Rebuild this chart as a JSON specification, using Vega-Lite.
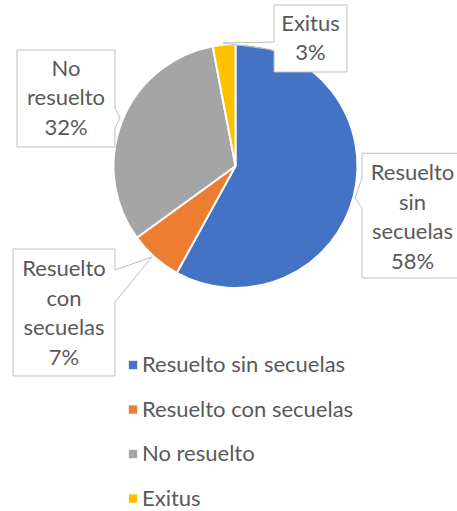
{
  "$schema": "https://vega.github.io/schema/vega-lite/v6.json",
  "width": 457,
  "height": 511,
  "autosize": "none",
  "padding": 0,
  "background": "white",
  "config": {"view": {"stroke": null}, "text": {"font": "Lato"}},
  "data": {
    "values": [
      {"category": "Resuelto sin secuelas", "value": 58},
      {"category": "Resuelto con secuelas", "value": 7},
      {"category": "No resuelto", "value": 32},
      {"category": "Exitus", "value": 3}
    ]
  },
  "transform": [
    {"window": [{"op": "row_number", "as": "orden"}]},
    {"calculate": "join(split(datum.category, ' '), '\\n') + '\\n' + datum.value + '%'", "as": "label"}
  ],
  "layer": [
    {
      "mark": {"type": "arc", "outerRadius": 122, "stroke": "white", "strokeWidth": 2},
      "encoding": {
        "x": {"datum": 0, "type": "quantitative", "scale": {"domain": [-1.9463, 1.8306], "nice": false, "zero": false}, "axis": null},
        "y": {"datum": 0, "type": "quantitative", "scale": {"domain": [-2.8512, 1.3719], "nice": false, "zero": false}, "axis": null},
        "theta": {"field": "value", "type": "quantitative", "stack": true},
        "order": {"field": "orden", "type": "quantitative"},
        "color": {
          "field": "category",
          "type": "nominal",
          "scale": {
            "domain": ["Resuelto sin secuelas", "Resuelto con secuelas", "No resuelto", "Exitus"],
            "range": ["#4472C4", "#ED7D31", "#A5A5A5", "#FFC000"]
          },
          "legend": {
            "orient": "none",
            "legendX": 122,
            "legendY": 354,
            "title": null,
            "direction": "vertical",
            "symbolType": "square",
            "symbolSize": 70,
            "symbolStrokeWidth": 0,
            "labelFont": "Lato",
            "labelFontSize": 22,
            "labelColor": "#595959",
            "labelOffset": -2,
            "rowPadding": 22.5,
            "labelLimit": 400
          }
        }
      }
    },
    {
      "transform": [{"filter": "datum.category === 'Exitus'"}],
      "layer": [
        {"mark": {"type": "rect", "fill": "white", "stroke": "#BFBFBF", "strokeWidth": 1},
         "encoding": {
           "x": {"datum": 0.3182, "type": "quantitative", "scale": {"domain": [-1.9463, 1.8306], "nice": false, "zero": false}, "axis": null},
           "x2": {"datum": 0.9215},
           "y": {"datum": 1.3306, "type": "quantitative", "scale": {"domain": [-2.8512, 1.3719], "nice": false, "zero": false}, "axis": null},
           "y2": {"datum": 0.7769}}},
        {"mark": {"type": "rule", "color": "white", "strokeWidth": 2},
         "encoding": {
           "x": {"datum": 0.3182, "type": "quantitative", "scale": {"domain": [-1.9463, 1.8306], "nice": false, "zero": false}, "axis": null},
           "y": {"datum": 1.0248, "type": "quantitative", "scale": {"domain": [-2.8512, 1.3719], "nice": false, "zero": false}, "axis": null},
           "y2": {"datum": 0.9587}}},
        {"mark": {"type": "rule", "color": "#BFBFBF", "strokeWidth": 1},
         "encoding": {
           "x": {"datum": 0.3182, "type": "quantitative", "scale": {"domain": [-1.9463, 1.8306], "nice": false, "zero": false}, "axis": null},
           "y": {"datum": 1.0248, "type": "quantitative", "scale": {"domain": [-2.8512, 1.3719], "nice": false, "zero": false}, "axis": null},
           "x2": {"datum": -0.1033}, "y2": {"datum": 1.0165}}},
        {"mark": {"type": "rule", "color": "#BFBFBF", "strokeWidth": 1},
         "encoding": {
           "x": {"datum": 0.3182, "type": "quantitative", "scale": {"domain": [-1.9463, 1.8306], "nice": false, "zero": false}, "axis": null},
           "y": {"datum": 0.9587, "type": "quantitative", "scale": {"domain": [-2.8512, 1.3719], "nice": false, "zero": false}, "axis": null},
           "x2": {"datum": -0.1033}, "y2": {"datum": 1.0165}}},
        {"mark": {"type": "text", "fontSize": 22, "color": "#595959", "lineBreak": "\n", "lineHeight": 29.5, "align": "center", "baseline": "middle", "dy": -14.75},
         "encoding": {
           "x": {"datum": 0.6198, "type": "quantitative", "scale": {"domain": [-1.9463, 1.8306], "nice": false, "zero": false}, "axis": null},
           "y": {"datum": 1.0537, "type": "quantitative", "scale": {"domain": [-2.8512, 1.3719], "nice": false, "zero": false}, "axis": null},
           "text": {"field": "label", "type": "nominal"}}}
      ]
    },
    {
      "transform": [{"filter": "datum.category === 'No resuelto'"}],
      "layer": [
        {"mark": {"type": "rect", "fill": "white", "stroke": "#BFBFBF", "strokeWidth": 1},
         "encoding": {
           "x": {"datum": -1.8058, "type": "quantitative", "scale": {"domain": [-1.9463, 1.8306], "nice": false, "zero": false}, "axis": null},
           "x2": {"datum": -0.9959},
           "y": {"datum": 0.9587, "type": "quantitative", "scale": {"domain": [-2.8512, 1.3719], "nice": false, "zero": false}, "axis": null},
           "y2": {"datum": 0.1570}}},
        {"mark": {"type": "rule", "color": "white", "strokeWidth": 2},
         "encoding": {
           "x": {"datum": -0.9959, "type": "quantitative", "scale": {"domain": [-1.9463, 1.8306], "nice": false, "zero": false}, "axis": null},
           "y": {"datum": 0.4793, "type": "quantitative", "scale": {"domain": [-2.8512, 1.3719], "nice": false, "zero": false}, "axis": null},
           "y2": {"datum": 0.3140}}},
        {"mark": {"type": "rule", "color": "#BFBFBF", "strokeWidth": 1},
         "encoding": {
           "x": {"datum": -0.9959, "type": "quantitative", "scale": {"domain": [-1.9463, 1.8306], "nice": false, "zero": false}, "axis": null},
           "y": {"datum": 0.4793, "type": "quantitative", "scale": {"domain": [-2.8512, 1.3719], "nice": false, "zero": false}, "axis": null},
           "x2": {"datum": -0.9545}, "y2": {"datum": 0.3967}}},
        {"mark": {"type": "rule", "color": "#BFBFBF", "strokeWidth": 1},
         "encoding": {
           "x": {"datum": -0.9959, "type": "quantitative", "scale": {"domain": [-1.9463, 1.8306], "nice": false, "zero": false}, "axis": null},
           "y": {"datum": 0.3140, "type": "quantitative", "scale": {"domain": [-2.8512, 1.3719], "nice": false, "zero": false}, "axis": null},
           "x2": {"datum": -0.9545}, "y2": {"datum": 0.3967}}},
        {"mark": {"type": "text", "fontSize": 22, "color": "#595959", "lineBreak": "\n", "lineHeight": 29.5, "align": "center", "baseline": "middle", "dy": -29.5},
         "encoding": {
           "x": {"datum": -1.4008, "type": "quantitative", "scale": {"domain": [-1.9463, 1.8306], "nice": false, "zero": false}, "axis": null},
           "y": {"datum": 0.5579, "type": "quantitative", "scale": {"domain": [-2.8512, 1.3719], "nice": false, "zero": false}, "axis": null},
           "text": {"field": "label", "type": "nominal"}}}
      ]
    },
    {
      "transform": [{"filter": "datum.category === 'Resuelto con secuelas'"}],
      "layer": [
        {"mark": {"type": "rect", "fill": "white", "stroke": "#BFBFBF", "strokeWidth": 1},
         "encoding": {
           "x": {"datum": -1.8388, "type": "quantitative", "scale": {"domain": [-1.9463, 1.8306], "nice": false, "zero": false}, "axis": null},
           "x2": {"datum": -0.9959},
           "y": {"datum": -0.6860, "type": "quantitative", "scale": {"domain": [-2.8512, 1.3719], "nice": false, "zero": false}, "axis": null},
           "y2": {"datum": -1.7355}}},
        {"mark": {"type": "rule", "color": "white", "strokeWidth": 2},
         "encoding": {
           "x": {"datum": -0.9959, "type": "quantitative", "scale": {"domain": [-1.9463, 1.8306], "nice": false, "zero": false}, "axis": null},
           "y": {"datum": -0.8595, "type": "quantitative", "scale": {"domain": [-2.8512, 1.3719], "nice": false, "zero": false}, "axis": null},
           "y2": {"datum": -1.1240}}},
        {"mark": {"type": "rule", "color": "#BFBFBF", "strokeWidth": 1},
         "encoding": {
           "x": {"datum": -0.9959, "type": "quantitative", "scale": {"domain": [-1.9463, 1.8306], "nice": false, "zero": false}, "axis": null},
           "y": {"datum": -0.8595, "type": "quantitative", "scale": {"domain": [-2.8512, 1.3719], "nice": false, "zero": false}, "axis": null},
           "x2": {"datum": -0.6901}, "y2": {"datum": -0.7521}}},
        {"mark": {"type": "rule", "color": "#BFBFBF", "strokeWidth": 1},
         "encoding": {
           "x": {"datum": -0.9959, "type": "quantitative", "scale": {"domain": [-1.9463, 1.8306], "nice": false, "zero": false}, "axis": null},
           "y": {"datum": -1.1240, "type": "quantitative", "scale": {"domain": [-2.8512, 1.3719], "nice": false, "zero": false}, "axis": null},
           "x2": {"datum": -0.6901}, "y2": {"datum": -0.7521}}},
        {"mark": {"type": "text", "fontSize": 22, "color": "#595959", "lineBreak": "\n", "lineHeight": 29.5, "align": "center", "baseline": "middle", "dy": -43.25},
         "encoding": {
           "x": {"datum": -1.4174, "type": "quantitative", "scale": {"domain": [-1.9463, 1.8306], "nice": false, "zero": false}, "axis": null},
           "y": {"datum": -1.2107, "type": "quantitative", "scale": {"domain": [-2.8512, 1.3719], "nice": false, "zero": false}, "axis": null},
           "text": {"field": "label", "type": "nominal"}}}
      ]
    },
    {
      "transform": [{"filter": "datum.category === 'Resuelto sin secuelas'"}],
      "layer": [
        {"mark": {"type": "rect", "fill": "white", "stroke": "#BFBFBF", "strokeWidth": 1},
         "encoding": {
           "x": {"datum": 1.0455, "type": "quantitative", "scale": {"domain": [-1.9463, 1.8306], "nice": false, "zero": false}, "axis": null},
           "x2": {"datum": 1.8884},
           "y": {"datum": 0.1053, "type": "quantitative", "scale": {"domain": [-2.8512, 1.3719], "nice": false, "zero": false}, "axis": null},
           "y2": {"datum": -0.9256}}},
        {"mark": {"type": "rule", "color": "white", "strokeWidth": 2},
         "encoding": {
           "x": {"datum": 1.0455, "type": "quantitative", "scale": {"domain": [-1.9463, 1.8306], "nice": false, "zero": false}, "axis": null},
           "y": {"datum": -0.0992, "type": "quantitative", "scale": {"domain": [-2.8512, 1.3719], "nice": false, "zero": false}, "axis": null},
           "y2": {"datum": -0.3471}}},
        {"mark": {"type": "rule", "color": "#BFBFBF", "strokeWidth": 1},
         "encoding": {
           "x": {"datum": 1.0455, "type": "quantitative", "scale": {"domain": [-1.9463, 1.8306], "nice": false, "zero": false}, "axis": null},
           "y": {"datum": -0.0992, "type": "quantitative", "scale": {"domain": [-2.8512, 1.3719], "nice": false, "zero": false}, "axis": null},
           "x2": {"datum": 0.9876}, "y2": {"datum": -0.2645}}},
        {"mark": {"type": "rule", "color": "#BFBFBF", "strokeWidth": 1},
         "encoding": {
           "x": {"datum": 1.0455, "type": "quantitative", "scale": {"domain": [-1.9463, 1.8306], "nice": false, "zero": false}, "axis": null},
           "y": {"datum": -0.3471, "type": "quantitative", "scale": {"domain": [-2.8512, 1.3719], "nice": false, "zero": false}, "axis": null},
           "x2": {"datum": 0.9876}, "y2": {"datum": -0.2645}}},
        {"mark": {"type": "text", "fontSize": 22, "color": "#595959", "lineBreak": "\n", "lineHeight": 29.5, "align": "center", "baseline": "middle", "dy": -42.75},
         "encoding": {
           "x": {"datum": 1.4628, "type": "quantitative", "scale": {"domain": [-1.9463, 1.8306], "nice": false, "zero": false}, "axis": null},
           "y": {"datum": -0.4132, "type": "quantitative", "scale": {"domain": [-2.8512, 1.3719], "nice": false, "zero": false}, "axis": null},
           "text": {"field": "label", "type": "nominal"}}}
      ]
    }
  ]
}
